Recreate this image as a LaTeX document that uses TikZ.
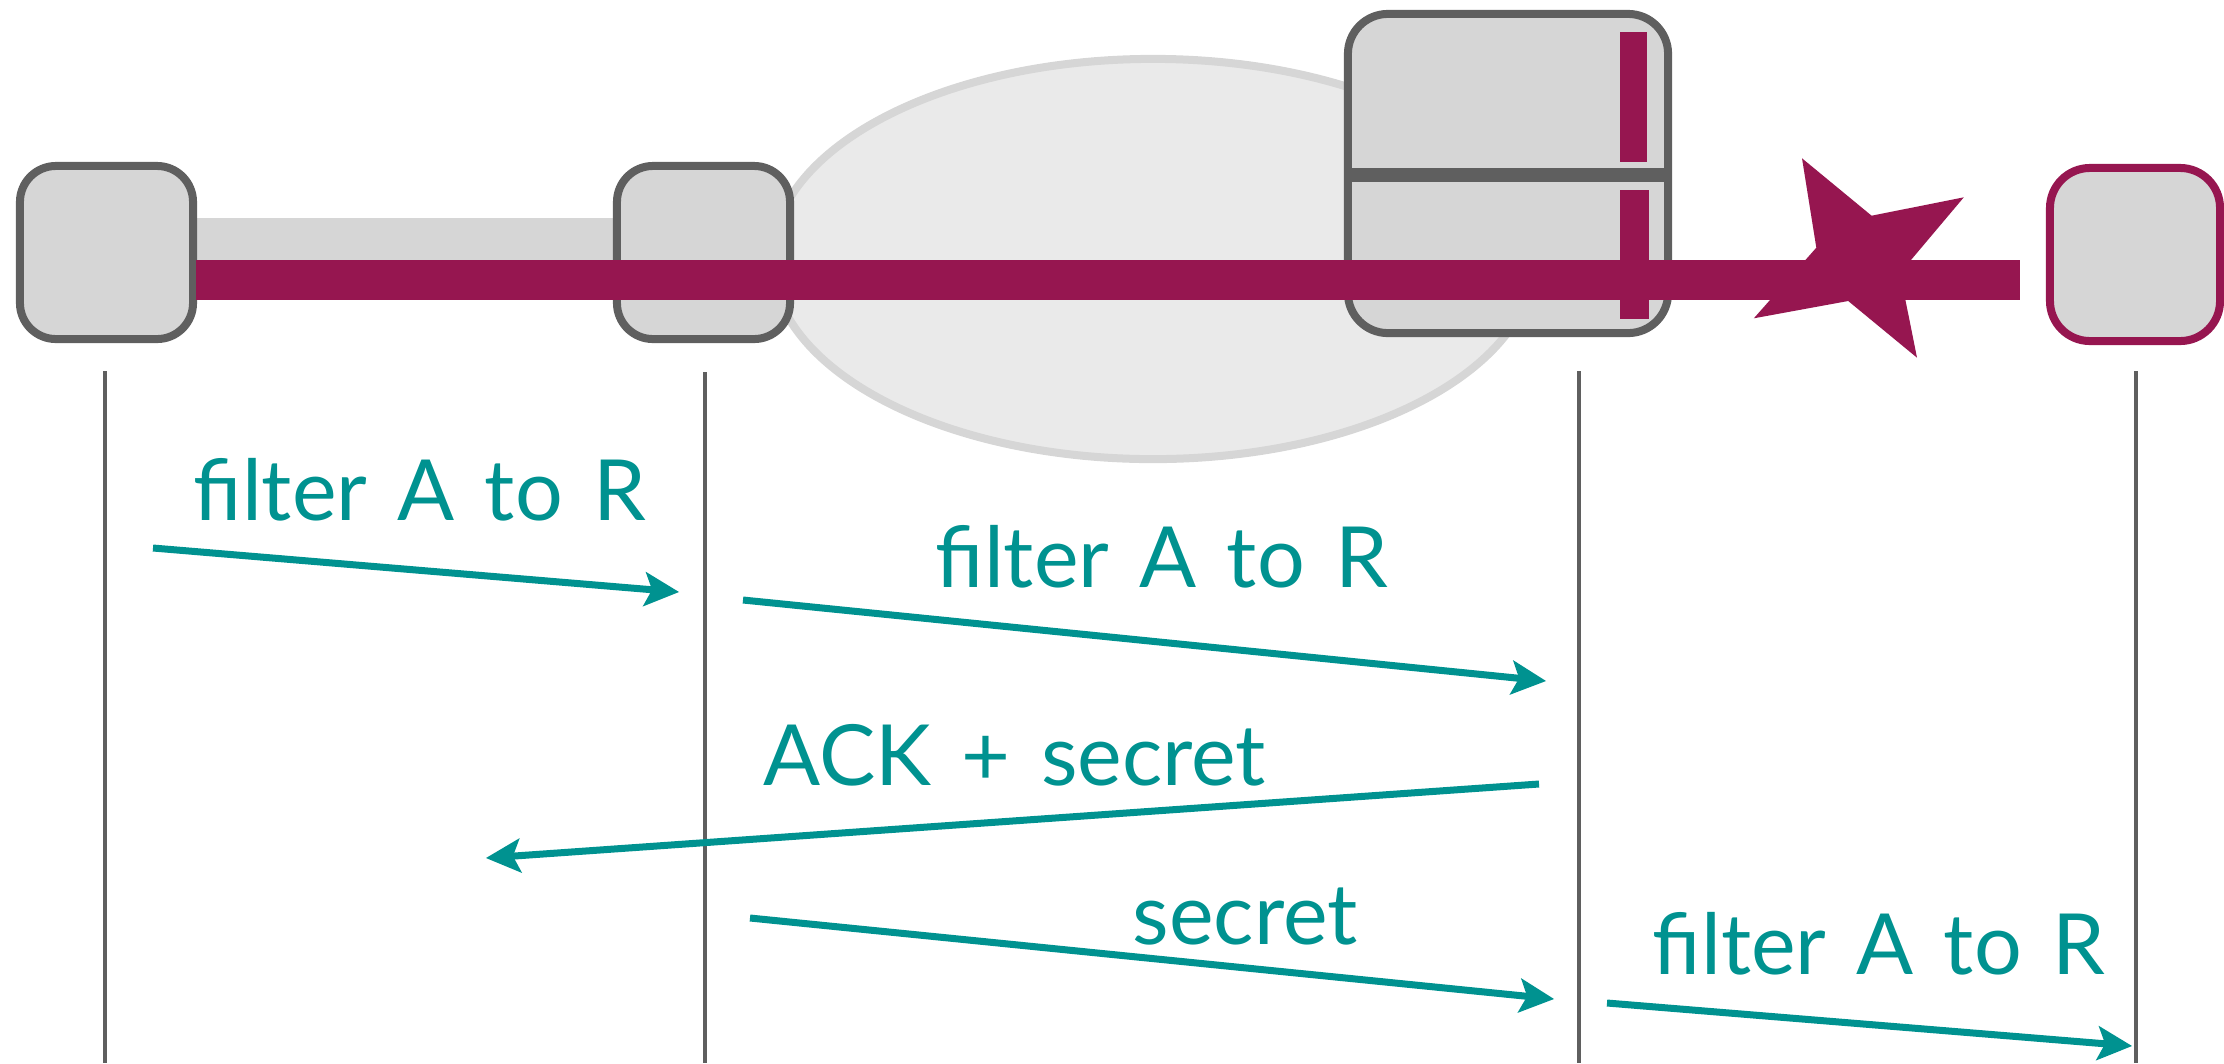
\documentclass[tikz,border=0pt]{standalone}
\usepackage{fontspec}
\newfontfamily\lblfont[WordSpace=1.4]{Lato}
\usetikzlibrary{arrows.meta,shapes.geometric}
\definecolor{boxfill}{RGB}{214,214,214}
\definecolor{boxline}{RGB}{95,95,95}
\definecolor{cloudfill}{RGB}{234,234,234}
\definecolor{wine}{RGB}{150,22,80}
\definecolor{tealc}{RGB}{0,146,144}
\tikzset{
  dev/.style={draw=boxline, fill=boxfill, line width=0.08cm, rounded corners=0.36cm,
              minimum width=1.73cm, minimum height=1.73cm, inner sep=0pt, outer sep=0pt},
  cloudnet/.style={ellipse, draw=boxfill, fill=cloudfill, line width=0.08cm,
              minimum width=7.62cm, minimum height=4.00cm, inner sep=0pt},
  lifeline/.style={draw=boxline, line width=0.045cm},
  msg/.style={draw=tealc, line width=0.07cm,
              -{Stealth[length=0.35cm,width=0.35cm,inset=0.08cm,line width=0pt]}},
  lbl/.style={text=tealc, font=\lblfont\fontsize{24}{24}\selectfont, inner sep=0pt, anchor=base west},
}
\begin{document}
\begin{tikzpicture}[x=0.01cm,y=-0.01cm]
\useasboundingbox (0,0) rectangle (2224,1063);

% network cloud
\node[cloudnet] (net) at (1153,259) {};

% grey link between first two devices
\fill[boxfill] (196,218) rectangle (613,260);

% devices
\node[dev] (b1) at (106.5,252.5) {};
\node[dev] (b2) at (703.5,252.5) {};
\node[dev, minimum width=3.20cm, minimum height=3.19cm, rounded corners=0.40cm] (b3) at (1508,173.5) {};
\fill[boxline] (1352,168.3) rectangle (1664,181.7);
\fill[wine] (1620,32.3) rectangle (1646.7,161.7);
\fill[wine] (1620,190) rectangle (1649.3,319);

% red path
\fill[wine] (196,260) rectangle (2020,300);

% blast
\fill[wine] (1802,158.3) -- (1871.6,215.7) -- (1963.8,197.3) -- (1900,273) -- (1917,357.7)
  -- (1848.2,301) -- (1753.8,318.3) -- (1816.3,247.7) -- cycle;

\node[dev, draw=wine, minimum width=1.70cm, minimum height=1.73cm, rounded corners=0.40cm] (b4) at (2135,254.5) {};

% lifelines
\coordinate (l1a) at (105,371);  \coordinate (l1b) at (105,1063);
\coordinate (l2a) at (705,372);  \coordinate (l2b) at (705,1063);
\coordinate (l3a) at (1579,371); \coordinate (l3b) at (1579,1063);
\coordinate (l4a) at (2136,371); \coordinate (l4b) at (2136,1063);
\draw[lifeline] (l1a) -- (l1b);
\draw[lifeline] (l2a) -- (l2b);
\draw[lifeline] (l3a) -- (l3b);
\draw[lifeline] (l4a) -- (l4b);

% messages
\coordinate (m1s) at (153,548);   \coordinate (m1e) at (679,592);
\coordinate (m2s) at (743,600);   \coordinate (m2e) at (1546,681);
\coordinate (m3s) at (1539,784);  \coordinate (m3e) at (486,858);
\coordinate (m4s) at (750,918);   \coordinate (m4e) at (1554,999);
\coordinate (m5s) at (1607,1003); \coordinate (m5e) at (2132,1046);
\draw[msg] (m1s) -- (m1e);
\draw[msg] (m2s) -- (m2e);
\draw[msg] (m3s) -- (m3e);
\draw[msg] (m4s) -- (m4e);
\draw[msg] (m5s) -- (m5e);

% labels
\node[lbl] (t1) at (193,520) {filter A to R};
\node[lbl] (t2) at (935,587) {filter A to R};
\node[lbl] (t3) at (763,785) {ACK + secret};
\node[lbl] (t4) at (1132,944) {secret};
\node[lbl] (t5) at (1652,974) {filter A to R};
\end{tikzpicture}
\end{document}
